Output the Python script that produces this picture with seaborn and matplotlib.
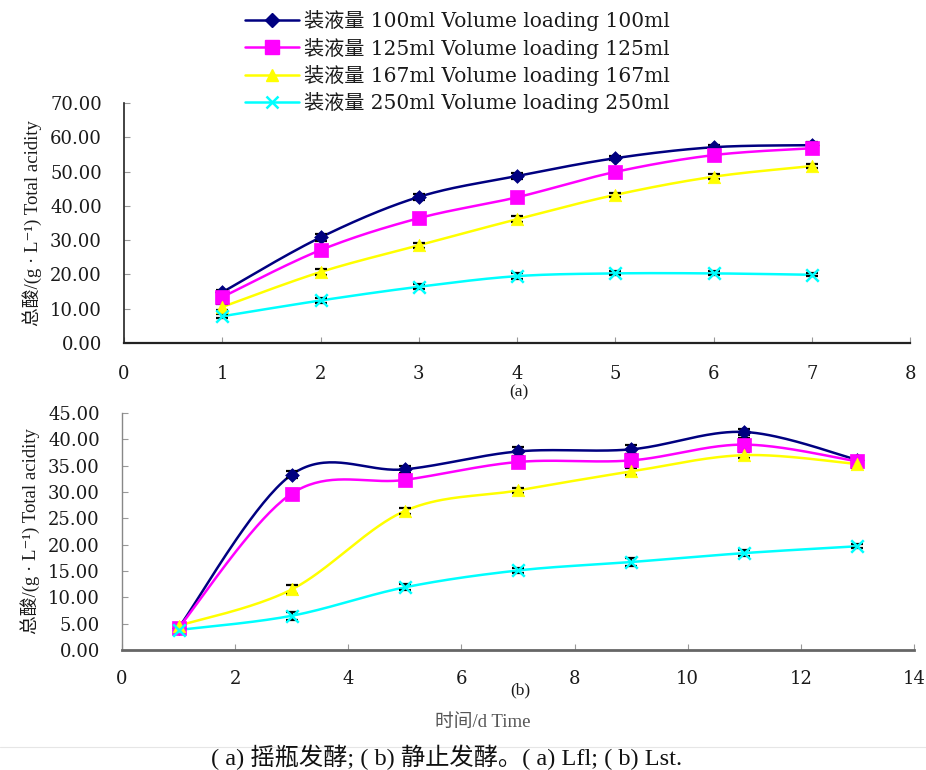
import numpy as np
import pandas as pd
import matplotlib
matplotlib.use("Agg")
import matplotlib.pyplot as plt
from matplotlib.lines import Line2D
import seaborn as sns

# ---------------- data ----------------
days_a = [1, 2, 3, 4, 5, 6, 7]
a_100 = [14.8, 30.8, 42.6, 48.7, 53.9, 57.1, 57.7]
a_125 = [13.4, 27.1, 36.4, 42.5, 49.9, 54.8, 56.8]
a_167 = [10.5, 20.7, 28.5, 36.1, 43.2, 48.5, 51.6]
a_250 = [7.8, 12.4, 16.4, 19.5, 20.3, 20.3, 19.9]
err_a_100 = [0.6, 1.0, 0.8, 0.8, 0.6, 0.6, 0.8]
err_a_125 = [0.8, 0.8, 0.8, 0.8, 0.8, 0.8, 0.8]
err_a_167 = [1.0, 0.9, 0.8, 0.8, 0.6, 0.7, 0.7]
err_a_250 = [0.6, 0.6, 0.7, 0.8, 0.6, 0.6, 0.5]

days_b = [1, 3, 5, 7, 9, 11, 13]
b_100 = [4.2, 33.3, 34.3, 37.7, 38.1, 41.4, 36.1]
b_125 = [4.2, 29.7, 32.3, 35.7, 36.0, 39.0, 35.8]
b_167 = [4.6, 11.5, 26.4, 30.3, 33.9, 37.0, 35.3]
b_250 = [3.8, 6.5, 11.9, 15.1, 16.7, 18.4, 19.7]
err_b_100 = [0.4, 0.7, 0.7, 0.8, 0.9, 0.6, 0.5]
err_b_125 = [0.4, 0.9, 0.7, 0.8, 1.2, 1.2, 0.6]
err_b_167 = [0.4, 0.8, 0.5, 0.5, 0.6, 0.6, 0.8]
err_b_250 = [0.4, 0.8, 0.6, 0.5, 0.7, 0.5, 0.4]

labels = ["装液量 100ml Volume loading 100ml",
          "装液量 125ml Volume loading 125ml",
          "装液量 167ml Volume loading 167ml",
          "装液量 250ml Volume loading 250ml"]
yticks_a = [0, 10, 20, 30, 40, 50, 60, 70]
yticks_b = [0, 5, 10, 15, 20, 25, 30, 35, 40, 45]
xticks_a = [0, 1, 2, 3, 4, 5, 6, 7, 8]
xticks_b = [0, 2, 4, 6, 8, 10, 12, 14]
ylabel = "总酸/(g · L⁻¹) Total acidity"
xlabel_b = "时间/d Time"
caption = "( a) 摇瓶发酵; ( b) 静止发酵。( a) Lfl; ( b) Lst."

colors = ["#000080", "#FF00FF", "#FFFF00", "#00FFFF"]
markers = ["D", "s", "^", "x"]
msizes = [7, 10, 9, 9]

sns.set_theme(style="white")
SERIF = ["DejaVu Serif", "Noto Sans CJK SC"]
TIMES = ["Liberation Serif", "Noto Sans CJK SC", "DejaVu Serif"]
plt.rcParams["font.family"] = SERIF


def excel_smooth(x, y, n=40):
    """Excel-style Bezier smoothing of a polyline through the data points."""
    P = np.column_stack([x, y]).astype(float)
    m = len(P)
    out = [P[:1]]
    t = np.linspace(0, 1, n)[1:, None]
    for i in range(m - 1):
        p0 = P[max(i - 1, 0)]
        p1 = P[i]
        p2 = P[i + 1]
        p3 = P[min(i + 2, m - 1)]
        c1 = p1 + (p2 - p0) / 6.0
        c2 = p2 - (p3 - p1) / 6.0
        seg = ((1 - t) ** 3) * p1 + 3 * ((1 - t) ** 2) * t * c1 + 3 * (1 - t) * t ** 2 * c2 + t ** 3 * p2
        out.append(seg)
    pts = np.vstack(out)
    return pts[:, 0], pts[:, 1]


fig = plt.figure(figsize=(9.26, 7.70), dpi=100)
ax_a = fig.add_axes([124 / 926, 1 - 343 / 770, (910 - 124) / 926, (343 - 103) / 770])
ax_b = fig.add_axes([122 / 926, 1 - 650 / 770, (914 - 122) / 926, (650 - 413) / 770])


def draw(ax, days, series, errs):
    for k, (vals, er) in enumerate(zip(series, errs)):
        sx, sy = excel_smooth(days, vals)
        ax.plot(sx, sy, color=colors[k], lw=1.8, zorder=2)
        ax.errorbar(days, vals, yerr=er, fmt="none", ecolor="black",
                    elinewidth=1.6, capsize=4.5, capthick=1.6, zorder=3)
        df = pd.DataFrame({"x": days, "y": vals})
        if markers[k] == "x":
            sns.scatterplot(data=df, x="x", y="y", ax=ax, marker="x", s=msizes[k] ** 2,
                            color=colors[k], linewidth=1.8, zorder=4, legend=False)
        else:
            sns.scatterplot(data=df, x="x", y="y", ax=ax, marker=markers[k], s=msizes[k] ** 2,
                            color=colors[k], edgecolor=colors[k], linewidth=0.5, zorder=4,
                            legend=False)
    ax.set_xlabel("")
    ax.set_ylabel("")


draw(ax_a, days_a, [a_100, a_125, a_167, a_250],
     [err_a_100, err_a_125, err_a_167, err_a_250])
draw(ax_b, days_b, [b_100, b_125, b_167, b_250],
     [err_b_100, err_b_125, err_b_167, err_b_250])

for ax, xt, yt, xpad in [(ax_a, xticks_a, yticks_a, 15.5), (ax_b, xticks_b, yticks_b, 14.5)]:
    ax.set_xlim(xt[0], xt[-1])
    ax.set_ylim(yt[0], yt[-1])
    ax.set_xticks(xt)
    ax.set_yticks(yt)
    ax.set_yticklabels([f"{v:.2f}" for v in yt])
    ax.set_xticklabels([str(v) for v in xt])
    for s in ["top", "right"]:
        ax.spines[s].set_visible(False)
    ax.tick_params(axis="both", direction="in", length=4, width=0.8, color="#999999",
                   labelsize=13, labelcolor="#1a1a1a")
    ax.tick_params(axis="x", pad=xpad, bottom=True)
    ax.tick_params(axis="y", pad=16, left=True)
    ax.set_ylabel(ylabel, fontsize=13.5, color="#1a1a1a", labelpad=6, family=TIMES)
    ax.set_facecolor("white")

ax_a.spines["left"].set_color("#222222")
ax_a.spines["left"].set_linewidth(1.2)
ax_a.spines["bottom"].set_color("#222222")
ax_a.spines["bottom"].set_linewidth(1.6)
ax_b.spines["left"].set_color("#888888")
ax_b.spines["left"].set_linewidth(1.0)
ax_b.spines["bottom"].set_color("#666666")
ax_b.spines["bottom"].set_linewidth(2.0)

fig.text(519 / 926, 1 - 392 / 770, "(a)", ha="center", va="center", fontsize=12.5,
         color="#1a1a1a", family=TIMES)
fig.text(520 / 926, 1 - 690 / 770, "(b)", ha="center", va="center", fontsize=12.5,
         color="#1a1a1a", family=TIMES)
fig.text(483 / 926, 1 - 723 / 770, xlabel_b, ha="center", va="center", fontsize=13.5,
         color="#555555", family=TIMES)
fig.add_artist(Line2D([0, 1], [1 - 747 / 770, 1 - 747 / 770], transform=fig.transFigure,
                      color="#e6e6e6", lw=0.8))
fig.text(447 / 926, 1 - 757 / 770, caption, ha="center", va="center", fontsize=17.5,
         fontweight=500, color="#111111", family=TIMES)

handles = []
for k in range(4):
    if markers[k] == "x":
        h = Line2D([], [], color=colors[k], lw=1.8, marker="x", markersize=9,
                   markeredgewidth=1.8)
    else:
        h = Line2D([], [], color=colors[k], lw=1.8, marker=markers[k],
                   markersize=[7, 10, 9][k], markeredgecolor=colors[k])
    handles.append(h)
fig.legend(handles, labels, loc="upper left", bbox_to_anchor=(235 / 926, 1 + 0 / 770),
           frameon=False, fontsize=14.5, handlelength=2.7, handletextpad=0.25,
           labelspacing=0.32, borderpad=0, labelcolor="#1a1a1a")

fig.savefig("out.png", dpi=100, facecolor="white")
